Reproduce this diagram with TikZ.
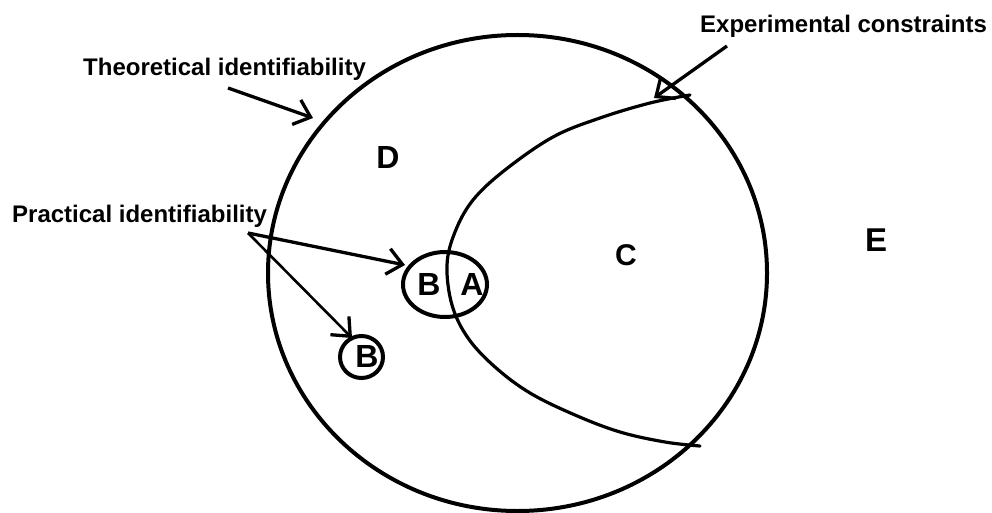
\documentclass[tikz,border=0pt]{standalone}
\usepackage{fontspec}
\setmainfont{Liberation Sans}
\usetikzlibrary{arrows.meta,shapes.geometric}

\tikzset{
  region/.style={draw=black, ellipse, line width=4pt, inner sep=0pt},
  label/.style={font=\fontsize{24}{28}\selectfont\bfseries, inner sep=0pt, anchor=base west},
  letter/.style={font=\fontsize{32}{36}\selectfont\bfseries, inner sep=0pt},
  pointer/.style={line width=3.3pt, -{Straight Barb[length=15pt, width=26pt, line width=3.3pt]}},
  border/.style={line width=3.2pt, line join=round, line cap=round}
}

\begin{document}
\begin{tikzpicture}[x=1pt, y=-1pt]
  \useasboundingbox[fill=white] (0,0) rectangle (992,513);

  % theoretical identifiability: the large region
  \node[region, minimum width=499pt, minimum height=476pt] (theory) at (517.5,273) {};

  % boundary set by the experimental constraints
  \draw[border] plot[smooth, tension=0.6] coordinates {
    (690,95) (650,103) (600,118) (553,137) (505,170) (473,200)
    (455,232) (447,265) (452,305) (468,338) (495,367) (530,393)
    (575,415) (620,432) (665,442) (700,446)};

  % practical identifiability regions
  \node[region, minimum width=84pt, minimum height=65pt] (pairBA) at (445,284.5) {};
  \node[region, minimum width=43pt, minimum height=42pt] (aloneB) at (361.5,357) {};

  % region letters
  \node[letter] (lD) at (388,157) {D};
  \node[letter, font=\fontsize{30}{34}\selectfont\bfseries] (lC) at (626,255) {C};
  \node[letter, font=\fontsize{33}{38}\selectfont\bfseries] (lE) at (876,240) {E};
  \node[letter] (lB1) at (429,284) {B};
  \node[letter] (lA) at (472,284) {A};
  \node[letter] (lB2) at (367,356) {B};

  % captions
  \node[label] (capTheory) at (83,76) {Theoretical identifiability};
  \node[label] (capExp) at (700,33) {Experimental constraints};
  \node[label] (capPract) at (12,222) {Practical identifiability};

  % arrow ends
  \coordinate (thTail) at (228,88);
  \coordinate (thTip) at (313,118);
  \coordinate (exTail) at (727,46);
  \coordinate (exTip) at (654,98);
  \coordinate (prTail) at (248,233);
  \coordinate (prTipA) at (405,265);
  \coordinate (prTipB) at (352,338);

  \draw[pointer] (thTail) -- (thTip);
  \draw[pointer] (exTail) -- (exTip);
  \draw[pointer] (prTail) -- (prTipA);
  \draw[pointer, line width=2.6pt] (prTail) -- (prTipB);
\end{tikzpicture}
\end{document}
